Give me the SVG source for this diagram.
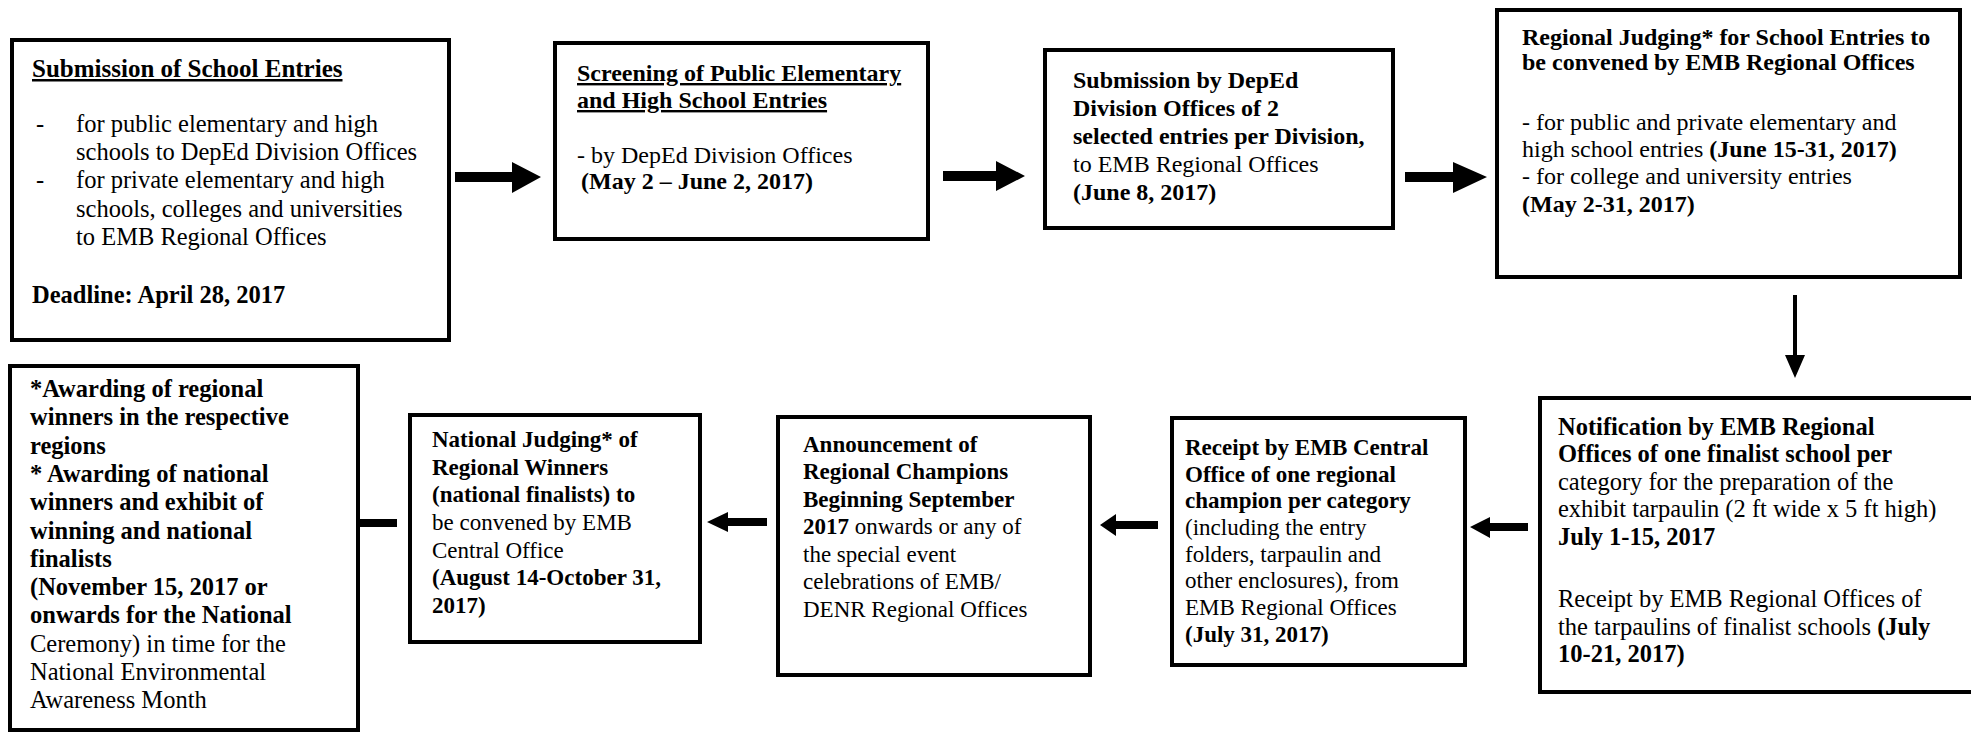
<svg xmlns="http://www.w3.org/2000/svg" width="1971" height="732" viewBox="0 0 1971 732">
<style>
.box{fill:#fff;stroke:#000;stroke-width:4}
text{font-family:"Liberation Serif","Times New Roman",serif;font-size:23px;fill:#000}
.b{font-weight:bold}
.u{text-decoration:underline}
.arr{fill:#000;stroke:none}
.f24 text{font-size:24px}
.f245 text{font-size:24.5px}
</style>
<rect width="1971" height="732" fill="#fff"/>
<g id="connectors">
<path class="arr" d="M455,172 H512 V162 L541,177 L512,193 V182 H455 Z"/>
<path class="arr" d="M943,171 H996 V161 L1025,176 L996,191 V181 H943 Z"/>
<path class="arr" d="M1405,172 H1453 V162 L1487,177 L1453,193 V182 H1405 Z"/>
<path class="arr" d="M1793,295 H1797 V355 H1805 L1795,378 L1785,355 H1793 Z"/>
<path class="arr" d="M1528,523 H1490 V517 L1470,527 L1490,538 V531 H1528 Z"/>
<path class="arr" d="M1158,521 H1116 V514 L1100,525 L1116,536 V529 H1158 Z"/>
<path class="arr" d="M767,518 H728 V512 L707,522 L728,532 V526 H767 Z"/>
<rect class="arr" x="358" y="519" width="39" height="8"/>
</g>
<g id="n1" class="f245">
<rect class="box" x="12" y="40" width="437" height="300"/>
<text x="32" y="77" class="b u" style="font-size:25px">Submission of School Entries</text>
<text x="36" y="132">-</text><text x="76" y="132">for public elementary and high</text>
<text x="76" y="160">schools to DepEd Division Offices</text>
<text x="36" y="188">-</text><text x="76" y="188">for private elementary and high</text>
<text x="76" y="217">schools, colleges and universities</text>
<text x="76" y="245">to EMB Regional Offices</text>
<text x="32" y="303" class="b">Deadline: April 28, 2017</text>
</g>
<g id="n2" class="f24">
<rect class="box" x="555" y="43" width="373" height="196"/>
<text x="577" y="81" class="b u">Screening of Public Elementary</text>
<text x="577" y="108" class="b u">and High School Entries</text>
<text x="577" y="163">- by DepEd Division Offices</text>
<text x="581" y="189" class="b">(May 2 – June 2, 2017)</text>
</g>
<g id="n3" class="f24">
<rect class="box" x="1045" y="50" width="348" height="178"/>
<text x="1073" y="88" class="b">Submission by DepEd</text>
<text x="1073" y="116" class="b">Division Offices of 2</text>
<text x="1073" y="144" class="b">selected entries per Division,</text>
<text x="1073" y="172">to EMB Regional Offices</text>
<text x="1073" y="200" class="b">(June 8, 2017)</text>
</g>
<g id="n4" class="f24">
<rect class="box" x="1497" y="10" width="463" height="267"/>
<text x="1522" y="45" class="b">Regional Judging* for School Entries to</text>
<text x="1522" y="70" class="b">be convened by EMB Regional Offices</text>
<text x="1522" y="130">- for public and private elementary  and</text>
<text x="1522" y="157">high school entries <tspan class="b">(June 15-31, 2017)</tspan></text>
<text x="1522" y="184">- for college and university entries</text>
<text x="1522" y="212" class="b">(May 2-31, 2017)</text>
</g>
<g id="n5" class="f245">
<rect class="box" x="1540" y="398" width="460" height="294"/>
<text x="1558" y="435" class="b">Notification by EMB Regional</text>
<text x="1558" y="462" class="b">Offices of one finalist school per</text>
<text x="1558" y="490">category for the preparation of the</text>
<text x="1558" y="517">exhibit tarpaulin (2 ft wide x 5 ft high)</text>
<text x="1558" y="545" class="b">July 1-15, 2017</text>
<text x="1558" y="607">Receipt by EMB Regional Offices of</text>
<text x="1558" y="635">the tarpaulins of finalist schools <tspan class="b">(July</tspan></text>
<text x="1558" y="662" class="b">10-21, 2017)</text>
</g>
<g id="n6">
<rect class="box" x="1172" y="418" width="293" height="247"/>
<text x="1185" y="455" class="b">Receipt by EMB Central</text>
<text x="1185" y="482" class="b">Office of one regional</text>
<text x="1185" y="508" class="b">champion per category</text>
<text x="1185" y="535">(including the entry</text>
<text x="1185" y="562">folders, tarpaulin and</text>
<text x="1185" y="588">other enclosures), from</text>
<text x="1185" y="615">EMB Regional Offices</text>
<text x="1185" y="642" class="b">(July 31, 2017)</text>
</g>
<g id="n7">
<rect class="box" x="778" y="417" width="312" height="258"/>
<text x="803" y="452" class="b">Announcement of</text>
<text x="803" y="479" class="b">Regional Champions</text>
<text x="803" y="507" class="b">Beginning September</text>
<text x="803" y="534"><tspan class="b">2017</tspan> onwards or any of</text>
<text x="803" y="562">the special event</text>
<text x="803" y="589">celebrations of EMB/</text>
<text x="803" y="617">DENR Regional Offices</text>
</g>
<g id="n8">
<rect class="box" x="410" y="415" width="290" height="227"/>
<text x="432" y="447" class="b">National Judging* of</text>
<text x="432" y="475" class="b">Regional Winners</text>
<text x="432" y="502" class="b">(national finalists) to</text>
<text x="432" y="530">be convened by EMB</text>
<text x="432" y="558">Central Office</text>
<text x="432" y="585" class="b">(August 14-October 31,</text>
<text x="432" y="613" class="b">2017)</text>
</g>
<g id="n9" class="f245">
<rect class="box" x="10" y="366" width="348" height="364"/>
<text x="30" y="397" class="b">*Awarding of regional</text>
<text x="30" y="425" class="b">winners in the respective</text>
<text x="30" y="454" class="b">regions</text>
<text x="30" y="482" class="b">* Awarding of national</text>
<text x="30" y="510" class="b">winners and exhibit of</text>
<text x="30" y="539" class="b">winning and national</text>
<text x="30" y="567" class="b">finalists</text>
<text x="30" y="595" class="b">(November 15, 2017 or</text>
<text x="30" y="623" class="b">onwards for the National</text>
<text x="30" y="652">Ceremony) in time for the</text>
<text x="30" y="680">National Environmental</text>
<text x="30" y="708">Awareness Month</text>
</g>
</svg>
